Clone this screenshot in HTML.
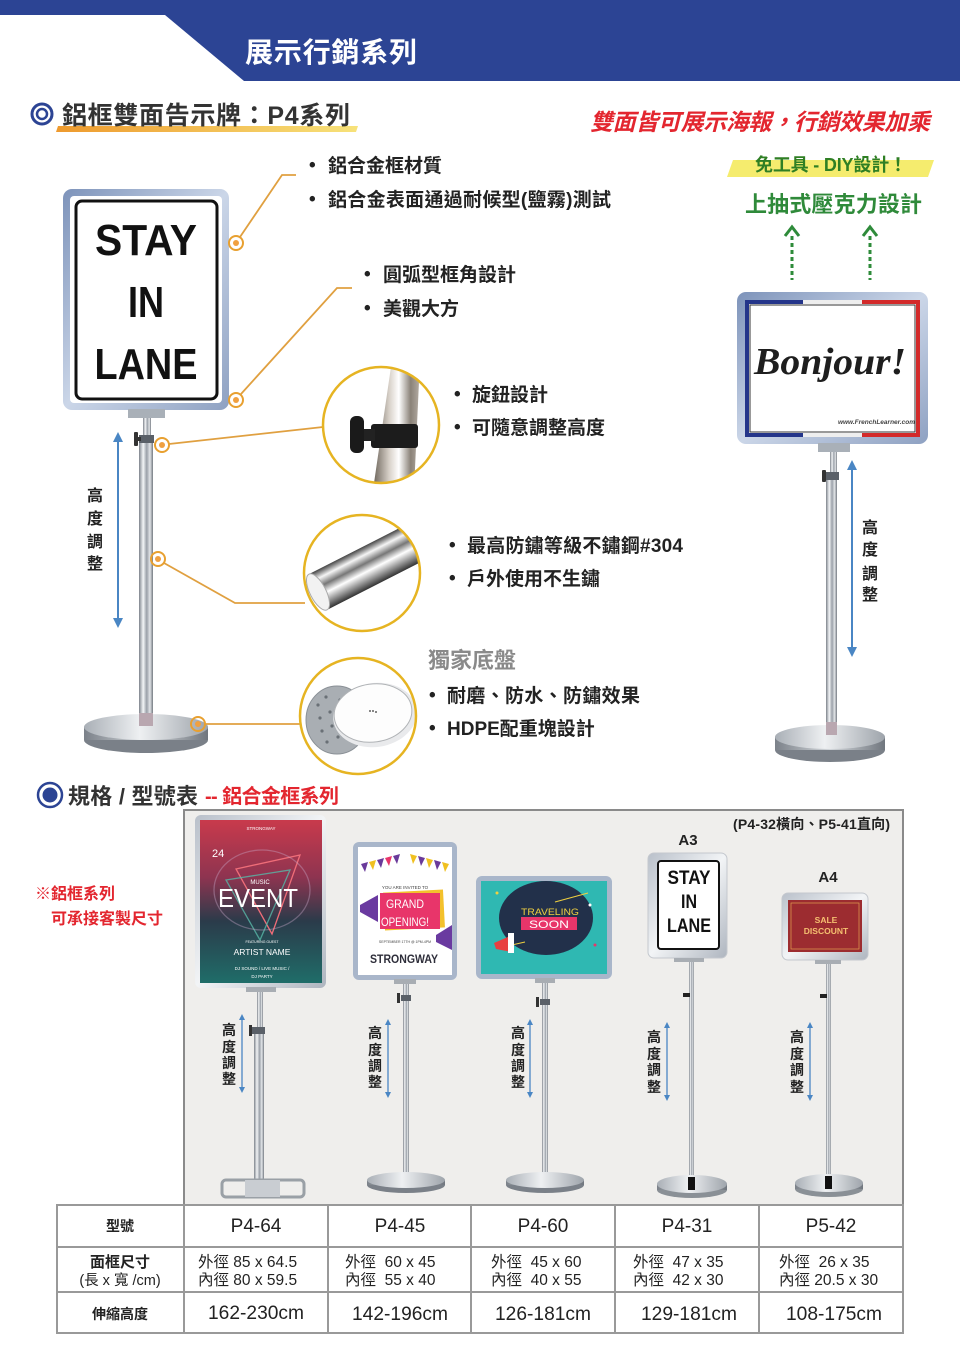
<!DOCTYPE html>
<html><head><meta charset="utf-8">
<style>
html,body{margin:0;padding:0;background:#fff;}
body{width:960px;height:1357px;overflow:hidden;}
svg{display:block;}
text{font-family:"Liberation Sans","Noto Sans CJK TC",sans-serif;}
.b{font-weight:700;}
.dk{fill:#222;}
.mid{text-anchor:middle;}
</style></head><body>
<svg width="960" height="1357" viewBox="0 0 960 1357" xmlns="http://www.w3.org/2000/svg">
<defs>
 <linearGradient id="fr" x1="0" y1="0" x2="1" y2="1">
  <stop offset="0" stop-color="#7d93ba"/><stop offset="0.5" stop-color="#cbd6e8"/><stop offset="1" stop-color="#8ea1c2"/>
 </linearGradient>
 <linearGradient id="frs" x1="0" y1="0" x2="1" y2="1">
  <stop offset="0" stop-color="#b9c0ca"/><stop offset="0.5" stop-color="#f2f4f6"/><stop offset="1" stop-color="#aeb5bf"/>
 </linearGradient>
 <linearGradient id="pole" x1="0" y1="0" x2="1" y2="0">
  <stop offset="0" stop-color="#7d838b"/><stop offset="0.3" stop-color="#f3f5f7"/><stop offset="0.55" stop-color="#9aa0a8"/><stop offset="0.78" stop-color="#e2e5e8"/><stop offset="1" stop-color="#747a82"/>
 </linearGradient>
 <linearGradient id="btop" x1="0" y1="0" x2="1" y2="0">
  <stop offset="0" stop-color="#a9afb6"/><stop offset="0.45" stop-color="#eef0f2"/><stop offset="1" stop-color="#9ea4ab"/>
 </linearGradient>
 <linearGradient id="bside" x1="0" y1="0" x2="1" y2="0">
  <stop offset="0" stop-color="#7b8189"/><stop offset="0.5" stop-color="#d3d7db"/><stop offset="1" stop-color="#70767e"/>
 </linearGradient>
 <linearGradient id="ul" x1="0" y1="0" x2="1" y2="0">
  <stop offset="0" stop-color="#ee9a2e"/><stop offset="1" stop-color="#f7e27a"/>
 </linearGradient>
 <linearGradient id="p1" x1="0" y1="0" x2="0" y2="1">
  <stop offset="0" stop-color="#c93a4c"/><stop offset="0.35" stop-color="#8e3450"/><stop offset="0.62" stop-color="#2b3b4a"/><stop offset="1" stop-color="#1f6d69"/>
 </linearGradient>
 <linearGradient id="chrome" x1="0" y1="0" x2="0" y2="1">
  <stop offset="0" stop-color="#444"/><stop offset="0.2" stop-color="#f5f5f5"/><stop offset="0.4" stop-color="#777"/><stop offset="0.6" stop-color="#fff"/><stop offset="0.8" stop-color="#999"/><stop offset="1" stop-color="#333"/>
 </linearGradient>
 <linearGradient id="kpole" x1="0" y1="0" x2="1" y2="0">
  <stop offset="0" stop-color="#6a6258"/><stop offset="0.35" stop-color="#d9d2ca"/><stop offset="0.55" stop-color="#ffffff"/><stop offset="0.8" stop-color="#8a8278"/><stop offset="1" stop-color="#b5ada4"/>
 </linearGradient>
 <clipPath id="c1"><circle cx="381" cy="425" r="58"/></clipPath>
 <clipPath id="c2"><circle cx="362" cy="573" r="58"/></clipPath>
 <clipPath id="c3"><circle cx="358" cy="716" r="58"/></clipPath>
</defs>

<!-- HEADER -->
<rect x="0" y="0" width="960" height="81" fill="#2c4494"/>
<polygon points="0,15 165,15 244,81 0,81" fill="#fff"/>
<text x="245" y="62" class="b" font-size="28" fill="#fff" textLength="172">展示行銷系列</text>

<!-- Section 1 title -->
<polygon points="58,126 358,126 356,132 56,132" fill="url(#ul)"/>
<circle cx="42" cy="114" r="10" fill="none" stroke="#2c4494" stroke-width="3"/>
<circle cx="42" cy="114" r="5" fill="none" stroke="#2c4494" stroke-width="2.5"/>
<text x="62" y="124" class="b" font-size="25" fill="#333" textLength="288">鋁框雙面告示牌：P4系列</text>
<text x="590" y="130" class="b" font-size="23" font-style="italic" fill="#e3262f" textLength="340">雙面皆可展示海報，行銷效果加乘</text>

<!-- LEFT BIG SIGN -->
<rect x="63" y="189" width="166" height="221" rx="9" fill="url(#fr)"/>
<rect x="70" y="196" width="152" height="207" rx="4" fill="#fff"/>
<rect x="76" y="201" width="141" height="198" rx="6" fill="#fff" stroke="#111" stroke-width="3"/>
<text x="146" y="255" class="b mid" font-size="44" fill="#111" textLength="102" lengthAdjust="spacingAndGlyphs">STAY</text>
<text x="146" y="317" class="b mid" font-size="44" fill="#111" textLength="36" lengthAdjust="spacingAndGlyphs">IN</text>
<text x="146" y="379" class="b mid" font-size="44" fill="#111" textLength="103" lengthAdjust="spacingAndGlyphs">LANE</text>
<!-- left stand -->
<rect x="128" y="409" width="37" height="9" fill="#a9b0b8"/>
<rect x="143" y="418" width="8" height="18" fill="url(#pole)"/>
<rect x="139" y="435" width="15" height="8" fill="#5a6068"/>
<rect x="134" y="432" width="4" height="14" rx="1" fill="#333"/>
<rect x="138" y="437" width="3" height="4" fill="#333"/>
<rect x="139" y="443" width="14" height="285" fill="url(#pole)"/>
<ellipse cx="146" cy="740" rx="62" ry="13" fill="#7a8088"/>
<rect x="84" y="727" width="124" height="13" fill="url(#bside)"/>
<ellipse cx="146" cy="727" rx="62" ry="13" fill="url(#btop)"/>
<rect x="139" y="713" width="14" height="13" fill="#b9a7b0"/>
<!-- left height arrow -->
<line x1="118" y1="440" x2="118" y2="620" stroke="#4a86c4" stroke-width="2"/>
<polygon points="118,432 113,442 123,442" fill="#4a86c4"/>
<polygon points="118,628 113,618 123,618" fill="#4a86c4"/>
<text x="95" y="501" class="b mid dk" font-size="16">高</text>
<text x="95" y="524" class="b mid dk" font-size="16">度</text>
<text x="95" y="547" class="b mid dk" font-size="16">調</text>
<text x="95" y="569" class="b mid dk" font-size="16">整</text>

<!-- connectors -->
<g fill="none" stroke="#e0a040" stroke-width="1.8">
 <polyline points="240,237 282,175 296,175"/>
 <polyline points="241,394 337,288 352,288"/>
 <polyline points="169,444 323,427"/>
 <polyline points="164,563 235,603 305,603"/>
 <polyline points="205,724 300,724"/>
</g>
<g fill="none" stroke="#e8a030" stroke-width="2">
 <circle cx="236" cy="243" r="7"/><circle cx="236" cy="400" r="7"/>
 <circle cx="162" cy="445" r="7"/><circle cx="158" cy="559" r="7"/>
 <circle cx="198" cy="724" r="7"/>
</g>
<g fill="#f0a040">
 <circle cx="236" cy="243" r="3"/><circle cx="236" cy="400" r="3"/>
 <circle cx="162" cy="445" r="3"/><circle cx="158" cy="559" r="3"/>
 <circle cx="198" cy="724" r="3"/>
</g>

<!-- bullets top -->
<text x="309" y="171" class="b dk" font-size="19">•</text>
<text x="328" y="172" class="b dk" font-size="19">鋁合金框材質</text>
<text x="309" y="205" class="b dk" font-size="19">•</text>
<text x="328" y="206" class="b dk" font-size="19" textLength="283">鋁合金表面通過耐候型(鹽霧)測試</text>
<text x="364" y="280" class="b dk" font-size="19">•</text>
<text x="383" y="281" class="b dk" font-size="19">圓弧型框角設計</text>
<text x="364" y="314" class="b dk" font-size="19">•</text>
<text x="383" y="315" class="b dk" font-size="19">美觀大方</text>

<!-- magnifier 1: knob -->
<circle cx="381" cy="425" r="58" fill="#fff"/>
<g clip-path="url(#c1)">
 <polygon points="392,360 420,360 414,490 373,490" fill="url(#kpole)"/>
 <rect x="371" y="424" width="47" height="24" rx="3" fill="#1c1c1c"/>
 <rect x="361" y="429" width="14" height="12" fill="#222"/>
 <rect x="350" y="416" width="14" height="37" rx="6" fill="#1a1a1a"/>
</g>
<circle cx="381" cy="425" r="58" fill="none" stroke="#e6b422" stroke-width="2.5"/>
<text x="454" y="400" class="b dk" font-size="19">•</text>
<text x="472" y="401" class="b dk" font-size="19">旋鈕設計</text>
<text x="454" y="433" class="b dk" font-size="19">•</text>
<text x="472" y="434" class="b dk" font-size="19">可隨意調整高度</text>

<!-- magnifier 2: pipe -->
<circle cx="362" cy="573" r="58" fill="#fff"/>
<g clip-path="url(#c2)">
 <g transform="rotate(-27 318 592)">
  <rect x="318" y="572" width="170" height="40" fill="url(#chrome)"/>
  <ellipse cx="318" cy="592" rx="8" ry="20" fill="#f2f2f2" stroke="#aaa" stroke-width="1"/>
 </g>
</g>
<circle cx="362" cy="573" r="58" fill="none" stroke="#e6b422" stroke-width="2.5"/>
<text x="449" y="551" class="b dk" font-size="19">•</text>
<text x="467" y="552" class="b dk" font-size="19" textLength="216">最高防鏽等級不鏽鋼#304</text>
<text x="449" y="584" class="b dk" font-size="19">•</text>
<text x="467" y="585" class="b dk" font-size="19">戶外使用不生鏽</text>

<!-- magnifier 3: base -->
<circle cx="358" cy="716" r="58" fill="#fff"/>
<g clip-path="url(#c3)">
 <ellipse cx="337" cy="720" rx="31" ry="34" fill="#a9aeb3" stroke="#8a9096" stroke-width="1"/>
 <g fill="#6a7076">
  <circle cx="318" cy="705" r="1.6"/><circle cx="326" cy="697" r="1.6"/><circle cx="320" cy="718" r="1.6"/>
  <circle cx="330" cy="712" r="1.6"/><circle cx="322" cy="731" r="1.6"/><circle cx="332" cy="726" r="1.6"/>
  <circle cx="327" cy="742" r="1.6"/><circle cx="338" cy="737" r="1.6"/><circle cx="340" cy="700" r="1.6"/>
 </g>
 <ellipse cx="375" cy="715" rx="42" ry="32" fill="#e9eaec" transform="rotate(-8 375 715)"/>
 <ellipse cx="373" cy="713" rx="39" ry="29" fill="#fdfdfd" stroke="#b0b3b6" stroke-width="1" transform="rotate(-8 373 713)"/>
 <circle cx="370" cy="711" r="0.9" fill="#333"/><circle cx="373" cy="711" r="0.9" fill="#333"/><circle cx="376" cy="712" r="0.9" fill="#333"/>
</g>
<circle cx="358" cy="716" r="58" fill="none" stroke="#e6b422" stroke-width="2.5"/>
<text x="428" y="668" class="b" font-size="22" fill="#8a8a8a">獨家底盤</text>
<text x="429" y="701" class="b dk" font-size="19">•</text>
<text x="447" y="702" class="b dk" font-size="19" textLength="193">耐磨、防水、防鏽效果</text>
<text x="429" y="734" class="b dk" font-size="19">•</text>
<text x="447" y="735" class="b dk" font-size="19">HDPE配重塊設計</text>

<!-- RIGHT SIDE -->
<polygon points="733,160 934,160 928,177 727,177" fill="#f5ec6e"/>
<text x="831" y="171" class="b mid" font-size="18" fill="#2f7f24" textLength="152">免工具 - DIY設計！</text>
<text x="745" y="212" class="b" font-size="22" fill="#2f8a3a" textLength="177">上抽式壓克力設計</text>
<g stroke="#2e8b3a" stroke-width="3" fill="none">
 <line x1="792" y1="236" x2="792" y2="280" stroke-dasharray="4,3"/>
 <line x1="870" y1="236" x2="870" y2="280" stroke-dasharray="4,3"/>
 <polyline points="785,236 792,227 799,236"/>
 <polyline points="863,236 870,227 877,236"/>
</g>
<rect x="737" y="292" width="191" height="152" rx="9" fill="url(#fr)"/>
<rect x="745" y="300" width="175" height="137" fill="#fff"/>
<rect x="745" y="300" width="58" height="4" fill="#24358a"/>
<rect x="862" y="300" width="58" height="4" fill="#d32a2a"/>
<rect x="745" y="433" width="58" height="4" fill="#24358a"/>
<rect x="862" y="433" width="58" height="4" fill="#d32a2a"/>
<rect x="803" y="300" width="59" height="4" fill="#eee"/>
<rect x="803" y="433" width="59" height="4" fill="#eee"/>
<rect x="745" y="300" width="4" height="137" fill="#24358a"/>
<rect x="916" y="300" width="4" height="137" fill="#d32a2a"/>
<rect x="750" y="305" width="165" height="127" fill="none" stroke="#333" stroke-width="1"/>
<text x="830" y="374" class="mid" font-size="38" font-style="italic" font-weight="700" fill="#1e1e1e" textLength="152" lengthAdjust="spacingAndGlyphs" style="font-family:'Liberation Serif','DejaVu Serif',serif">Bonjour!</text>
<text x="915" y="424" font-size="6.5" font-style="italic" font-weight="700" fill="#444" text-anchor="end">www.FrenchLearner.com</text>
<!-- right stand -->
<rect x="818" y="443" width="32" height="9" fill="#a9b0b8"/>
<rect x="830" y="452" width="7" height="22" fill="url(#pole)"/>
<rect x="826" y="472" width="13" height="8" fill="#5a6068"/>
<rect x="822" y="470" width="4" height="12" rx="1" fill="#333"/>
<rect x="826" y="480" width="11" height="255" fill="url(#pole)"/>
<ellipse cx="830" cy="750" rx="55" ry="12" fill="#7a8088"/>
<rect x="775" y="737" width="110" height="13" fill="url(#bside)"/>
<ellipse cx="830" cy="737" rx="55" ry="12" fill="url(#btop)"/>
<rect x="826" y="722" width="11" height="13" fill="#b9a7b0"/>
<line x1="852" y1="468" x2="852" y2="649" stroke="#4a86c4" stroke-width="2"/>
<polygon points="852,460 847,470 857,470" fill="#4a86c4"/>
<polygon points="852,657 847,647 857,647" fill="#4a86c4"/>
<text x="870" y="533" class="b mid dk" font-size="16">高</text>
<text x="870" y="555" class="b mid dk" font-size="16">度</text>
<text x="870" y="579" class="b mid dk" font-size="16">調</text>
<text x="870" y="600" class="b mid dk" font-size="16">整</text>

<!-- SECTION 2 TITLE -->
<circle cx="50" cy="795" r="12" fill="#fff" stroke="#2c4494" stroke-width="2.5"/>
<circle cx="50" cy="795" r="7.5" fill="#2c4494"/>
<text x="68" y="804" class="b" font-size="22" fill="#333" textLength="130">規格 / 型號表</text>
<text x="205" y="803" class="b" font-size="20" fill="#e3262f" textLength="134">-- 鋁合金框系列</text>

<text x="35" y="899" class="b" font-size="16" fill="#e3262f">※鋁框系列</text>
<text x="51" y="924" class="b" font-size="16" fill="#e3262f">可承接客製尺寸</text>

<!-- GRAY BOX -->
<rect x="184" y="810" width="719" height="395" fill="#efeeec" stroke="#8a8a8a" stroke-width="2"/>
<text x="890" y="829" class="b" font-size="14" fill="#222" text-anchor="end" textLength="157">(P4-32橫向、P5-41直向)</text>
<text x="688" y="845" class="b mid dk" font-size="15">A3</text>
<text x="828" y="882" class="b mid dk" font-size="15">A4</text>

<!-- Poster 1 -->
<rect x="195" y="815" width="131" height="173" rx="6" fill="url(#frs)"/>
<rect x="200" y="820" width="122" height="163" fill="url(#p1)"/>
<g fill="none" stroke-width="1.3">
 <polygon points="236,869 300,855 272,934" stroke="#ef6d78"/>
 <polygon points="226,880 290,870 260,940" stroke="#57b8a8" opacity="0.8"/>
 <ellipse cx="262" cy="890" rx="48" ry="40" stroke="#c9a8c8" opacity="0.4"/>
</g>
<text x="261" y="830" class="mid" font-size="4.5" fill="#fff">STRONGWAY</text>
<text x="212" y="857" font-size="11" fill="#fff">24</text>
<text x="260" y="884" class="mid" font-size="6" fill="#fff">MUSIC</text>
<text x="258" y="907" class="mid" font-size="26" fill="#fff" textLength="80" lengthAdjust="spacingAndGlyphs">EVENT</text>
<text x="262" y="943" class="mid" font-size="3.5" fill="#fff">FEATURING GUEST</text>
<text x="262" y="955" class="mid" font-size="8.5" fill="#fff">ARTIST NAME</text>
<text x="262" y="970" class="mid" font-size="4.5" fill="#fff">DJ SOUND / LIVE MUSIC /</text>
<text x="262" y="978" class="mid" font-size="4.5" fill="#fff">DJ PARTY</text>
<rect x="246" y="987" width="30" height="5" fill="#a8adb3"/>

<!-- Poster 2 -->
<rect x="353" y="842" width="104" height="138" rx="6" fill="#a9b6ca"/>
<rect x="358" y="847" width="94" height="128" fill="#fff"/>
<g>
 <polygon points="361,864 368,862 365,872" fill="#6a3a9a"/>
 <polygon points="369,862 376,860 373,870" fill="#f0c020"/>
 <polygon points="377,860 384,858 381,868" fill="#6a3a9a"/>
 <polygon points="385,858 392,856 389,866" fill="#e8356a"/>
 <polygon points="393,856 400,854 397,864" fill="#6a3a9a"/>
 <polygon points="410,854 417,856 413,864" fill="#f0c020"/>
 <polygon points="418,856 425,858 421,866" fill="#6a3a9a"/>
 <polygon points="426,858 433,860 429,868" fill="#f0c020"/>
 <polygon points="434,860 441,862 437,870" fill="#6a3a9a"/>
 <polygon points="442,862 449,864 445,872" fill="#f0c020"/>
</g>
<text x="405" y="889" class="mid" font-size="4.5" fill="#444">YOU ARE INVITED TO</text>
<rect x="384" y="891" width="60" height="38" fill="#f3c12c" transform="rotate(-3 414 910)"/>
<rect x="380" y="893" width="60" height="36" fill="#e8356a"/>
<polygon points="360,905 378,895 378,922 360,912" fill="#6a3aa0"/>
<polygon points="436,935 452,925 452,950 436,942" fill="#6a3aa0"/>
<text x="405" y="908" class="mid" font-size="12" fill="#fff" textLength="38" lengthAdjust="spacingAndGlyphs">GRAND</text>
<text x="405" y="926" class="mid" font-size="12" fill="#fff" textLength="48" lengthAdjust="spacingAndGlyphs">OPENING!</text>
<text x="405" y="943" class="mid" font-size="3.5" fill="#444">SEPTEMBER 17TH @ 1PM-4PM</text>
<text x="404" y="963" class="b mid" font-size="12" fill="#2e2e3a" textLength="68" lengthAdjust="spacingAndGlyphs">STRONGWAY</text>
<rect x="394" y="979" width="22" height="5" fill="#a8adb3"/>

<!-- Poster 3 -->
<rect x="476" y="876" width="136" height="103" rx="6" fill="#a9b6ca"/>
<rect x="481" y="881" width="126" height="93" fill="#2fb8b2"/>
<ellipse cx="546" cy="918" rx="47" ry="37" fill="#22304a"/>
<g stroke="#f0d040" stroke-width="1">
 <line x1="555" y1="902" x2="588" y2="893"/><line x1="503" y1="947" x2="525" y2="942"/>
</g>
<circle cx="497" cy="893" r="1.5" fill="#f0d040"/><circle cx="595" cy="945" r="1.5" fill="#e8356a"/><circle cx="590" cy="905" r="1.5" fill="#fff"/>
<text x="550" y="915" class="mid" font-size="9.5" fill="#f0d040" textLength="58" lengthAdjust="spacingAndGlyphs">TRAVELING</text>
<rect x="521" y="917" width="56" height="13" fill="#e8356a"/>
<text x="549" y="928" class="mid" font-size="11" fill="#fff" textLength="40" lengthAdjust="spacingAndGlyphs">SOON</text>
<polygon points="494,943 510,936 512,952 496,949" fill="#e84040"/>
<rect x="508" y="933" width="6" height="20" fill="#fff"/>
<rect x="535" y="978" width="20" height="5" fill="#a8adb3"/>

<!-- Frame 4 A3 -->
<rect x="648" y="853" width="79" height="105" rx="6" fill="url(#frs)" stroke="#c4c8ce" stroke-width="1"/>
<rect x="658" y="861" width="61" height="88" rx="3" fill="#fff" stroke="#111" stroke-width="2"/>
<text x="689" y="884" class="b mid" font-size="19" fill="#111" textLength="43" lengthAdjust="spacingAndGlyphs">STAY</text>
<text x="689" y="908" class="b mid" font-size="19" fill="#111" textLength="16" lengthAdjust="spacingAndGlyphs">IN</text>
<text x="689" y="932" class="b mid" font-size="19" fill="#111" textLength="44" lengthAdjust="spacingAndGlyphs">LANE</text>
<rect x="674" y="958" width="30" height="4" fill="#a8adb3"/>

<!-- Frame 5 A4 -->
<rect x="782" y="893" width="86" height="67" rx="6" fill="url(#frs)" stroke="#c4c8ce" stroke-width="1"/>
<rect x="788" y="900" width="74" height="52" fill="#9c2c30"/>
<rect x="791" y="903" width="68" height="46" fill="none" stroke="#e0a050" stroke-width="0.7"/>
<text x="826" y="923" class="b mid" font-size="8.5" fill="#f5c070">SALE</text>
<text x="826" y="934" class="b mid" font-size="8.5" fill="#f5c070">DISCOUNT</text>
<rect x="815" y="960" width="26" height="4" fill="#a8adb3"/>

<!-- Stands in box -->
<rect x="257" y="992" width="6" height="38" fill="url(#pole)"/>
<rect x="252" y="1027" width="13" height="7" fill="#5a6068"/>
<rect x="249" y="1025" width="3" height="11" fill="#333"/>
<rect x="254" y="1034" width="10" height="150" fill="url(#pole)"/>
<rect x="222" y="1180" width="82" height="17" rx="4" fill="none" stroke="#9aa0a6" stroke-width="3"/>
<rect x="245" y="1180" width="35" height="17" fill="#c9cdd2"/>

<rect x="403" y="984" width="6" height="196" fill="url(#pole)"/>
<rect x="401" y="995" width="10" height="6" fill="#5a6068"/>
<rect x="397" y="993" width="3" height="10" fill="#333"/>
<ellipse cx="406" cy="1185" rx="39" ry="8" fill="#7a8088"/>
<rect x="367" y="1180" width="78" height="5" fill="url(#bside)"/>
<ellipse cx="406" cy="1180" rx="39" ry="8" fill="url(#btop)"/>

<rect x="542" y="983" width="6" height="197" fill="url(#pole)"/>
<rect x="540" y="999" width="10" height="6" fill="#5a6068"/>
<rect x="536" y="997" width="3" height="10" fill="#333"/>
<ellipse cx="545" cy="1185" rx="39" ry="8" fill="#7a8088"/>
<rect x="506" y="1180" width="78" height="5" fill="url(#bside)"/>
<ellipse cx="545" cy="1180" rx="39" ry="8" fill="url(#btop)"/>

<rect x="689" y="962" width="5" height="220" fill="url(#pole)"/>
<rect x="683" y="993" width="7" height="4" fill="#222"/>
<ellipse cx="692" cy="1190" rx="35" ry="8" fill="#8a9096"/>
<rect x="657" y="1184" width="70" height="6" fill="url(#bside)"/>
<ellipse cx="692" cy="1184" rx="35" ry="9" fill="url(#btop)"/>
<rect x="688" y="1177" width="7" height="13" fill="#111"/>

<rect x="826" y="964" width="5" height="216" fill="url(#pole)"/>
<rect x="820" y="994" width="7" height="4" fill="#222"/>
<ellipse cx="829" cy="1189" rx="34" ry="8" fill="#8a9096"/>
<rect x="795" y="1183" width="68" height="6" fill="url(#bside)"/>
<ellipse cx="829" cy="1183" rx="34" ry="9" fill="url(#btop)"/>
<rect x="825" y="1176" width="7" height="13" fill="#111"/>

<!-- small height arrows -->
<g stroke="#4a86c4" stroke-width="1.3">
 <line x1="242" y1="1018" x2="242" y2="1089"/>
 <line x1="388" y1="1023" x2="388" y2="1094"/>
 <line x1="530" y1="1023" x2="530" y2="1094"/>
 <line x1="667" y1="1026" x2="667" y2="1097"/>
 <line x1="810" y1="1026" x2="810" y2="1097"/>
</g>
<g fill="#4a86c4">
 <polygon points="242,1014 239,1020 245,1020"/><polygon points="242,1093 239,1087 245,1087"/>
 <polygon points="388,1019 385,1025 391,1025"/><polygon points="388,1098 385,1092 391,1092"/>
 <polygon points="530,1019 527,1025 533,1025"/><polygon points="530,1098 527,1092 533,1092"/>
 <polygon points="667,1022 664,1028 670,1028"/><polygon points="667,1101 664,1095 670,1095"/>
 <polygon points="810,1022 807,1028 813,1028"/><polygon points="810,1101 807,1095 813,1095"/>
</g>
<g font-size="14" fill="#222" text-anchor="middle">
 <text x="229" y="1035" class="b">高</text><text x="229" y="1052" class="b">度</text><text x="229" y="1068" class="b">調</text><text x="229" y="1084" class="b">整</text>
 <text x="375" y="1038" class="b">高</text><text x="375" y="1055" class="b">度</text><text x="375" y="1071" class="b">調</text><text x="375" y="1087" class="b">整</text>
 <text x="518" y="1038" class="b">高</text><text x="518" y="1055" class="b">度</text><text x="518" y="1071" class="b">調</text><text x="518" y="1087" class="b">整</text>
 <text x="654" y="1042" class="b">高</text><text x="654" y="1059" class="b">度</text><text x="654" y="1075" class="b">調</text><text x="654" y="1092" class="b">整</text>
 <text x="797" y="1042" class="b">高</text><text x="797" y="1059" class="b">度</text><text x="797" y="1075" class="b">調</text><text x="797" y="1092" class="b">整</text>
</g>

<!-- TABLE -->
<rect x="57" y="1205" width="846" height="128" fill="#fff" stroke="#999" stroke-width="2"/>
<g stroke="#999" stroke-width="2">
 <line x1="57" y1="1247" x2="903" y2="1247"/>
 <line x1="57" y1="1292" x2="903" y2="1292"/>
 <line x1="184" y1="1205" x2="184" y2="1333"/>
 <line x1="328" y1="1205" x2="328" y2="1333"/>
 <line x1="471" y1="1205" x2="471" y2="1333"/>
 <line x1="615" y1="1205" x2="615" y2="1333"/>
 <line x1="759" y1="1205" x2="759" y2="1333"/>
</g>
<text x="120" y="1231" class="b mid dk" font-size="14">型號</text>
<text x="256" y="1232" class="mid dk" font-size="19">P4-64</text>
<text x="400" y="1232" class="mid dk" font-size="19">P4-45</text>
<text x="543" y="1232" class="mid dk" font-size="19">P4-60</text>
<text x="687" y="1232" class="mid dk" font-size="19">P4-31</text>
<text x="831" y="1232" class="mid dk" font-size="19">P5-42</text>

<text x="120" y="1267" class="b mid dk" font-size="15">面框尺寸</text>
<text x="120" y="1285" class="mid dk" font-size="14.5">(長 x 寬 /cm)</text>
<g font-size="15.5" fill="#222">
 <text x="198" y="1267">外徑 85 x 64.5</text>
 <text x="198" y="1285">內徑 80 x 59.5</text>
 <text x="345" y="1267" xml:space="preserve">外徑  60 x 45</text>
 <text x="345" y="1285" xml:space="preserve">內徑  55 x 40</text>
 <text x="491" y="1267" xml:space="preserve">外徑  45 x 60</text>
 <text x="491" y="1285" xml:space="preserve">內徑  40 x 55</text>
 <text x="633" y="1267" xml:space="preserve">外徑  47 x 35</text>
 <text x="633" y="1285" xml:space="preserve">內徑  42 x 30</text>
 <text x="779" y="1267" xml:space="preserve">外徑  26 x 35</text>
 <text x="779" y="1285">內徑 20.5 x 30</text>
</g>
<text x="120" y="1319" class="b mid dk" font-size="14">伸縮高度</text>
<g font-size="19" fill="#222" text-anchor="middle">
 <text x="256" y="1319" textLength="96" lengthAdjust="spacingAndGlyphs">162-230cm</text>
 <text x="400" y="1320" textLength="96" lengthAdjust="spacingAndGlyphs">142-196cm</text>
 <text x="543" y="1320" textLength="96" lengthAdjust="spacingAndGlyphs">126-181cm</text>
 <text x="689" y="1320" textLength="96" lengthAdjust="spacingAndGlyphs">129-181cm</text>
 <text x="834" y="1320" textLength="96" lengthAdjust="spacingAndGlyphs">108-175cm</text>
</g>
</svg>
</body></html>
